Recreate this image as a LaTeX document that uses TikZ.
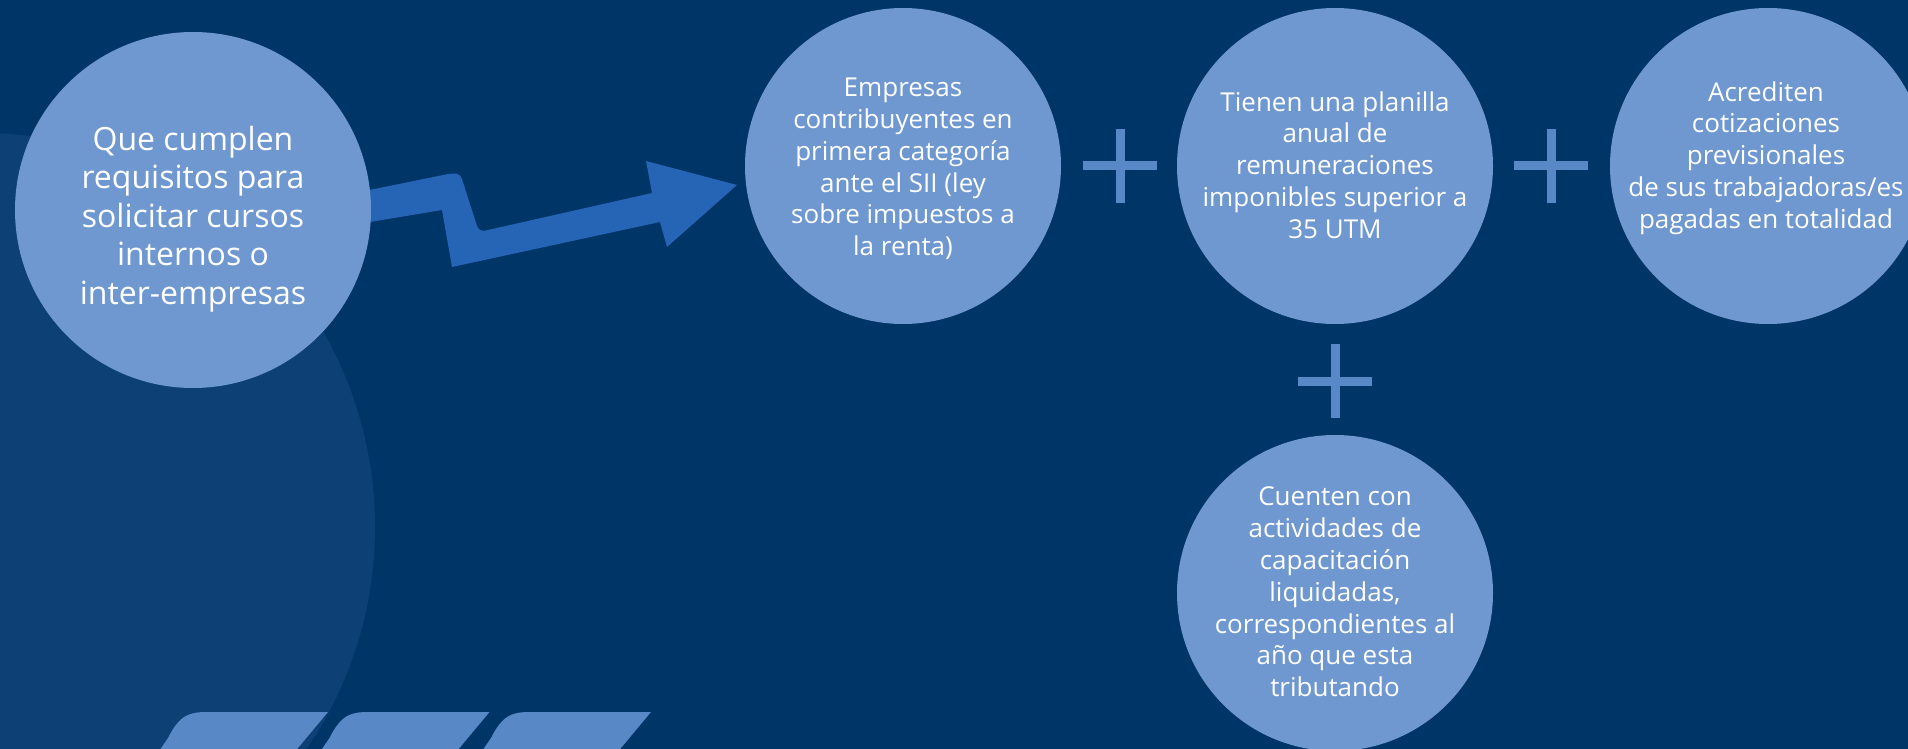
\documentclass[tikz,border=0pt]{standalone}
\usepackage{fontspec}
\setmainfont{Open Sans}
\definecolor{bgnavy}{RGB}{0,53,104}
\definecolor{halftone}{RGB}{13,64,117}
\definecolor{discblue}{RGB}{110,152,207}
\definecolor{stripeblue}{RGB}{88,136,198}
\definecolor{plusblue}{RGB}{88,136,198}
\definecolor{arrowblue}{RGB}{38,100,182}
\tikzset{
  disc/.style={circle,fill=discblue,draw=none,inner sep=0pt},
  txtsmall/.style={text=white,align=center,inner sep=0pt,font=\fontsize{13}{15.9}\selectfont},
  txtbig/.style={text=white,align=center,inner sep=0pt,font=\fontsize{16}{19.25}\selectfont},
  plussign/.style={draw=plusblue,line width=4.5pt},
  stripe/.style={fill=stripeblue,draw=none},
  zigarrow/.style={fill=arrowblue,draw=none},
  pics/plusmark/.style={code={
    \draw[plussign] (-37,0) -- (37,0);
    \draw[plussign] (0,-37) -- (0,37);
  }}
}
\begin{document}
\begin{tikzpicture}[x=0.5pt,y=-0.5pt]
\useasboundingbox (0,0) rectangle (1908,749);
\clip (0,0) rectangle (1908,749);
\fill[bgnavy] (0,0) rectangle (1908,749);
% halftone background disc
\fill[halftone] (-19,527) circle[radius=197pt];
% bottom stripes
\foreach \b in {162,323.5,485}{
  \fill[stripe] (\b-9,760) -- (\b+6,738) .. controls (\b+18,714) and (\b+28,712) .. (\b+46,712)
     -- (\b+166,712) -- (\b+126,760) -- cycle;
}
% zig-zag arrow
\fill[zigarrow] (340,196) -- (448,174) [rounded corners=3pt] -- (460,173) -- (479,232) [sharp corners] -- (652,193)
   -- (646,161) -- (737,185) -- (667,247) -- (660,222) -- (452,267) -- (442,210) -- (340,227) -- cycle;
% circles
\node[disc,minimum size=178pt] (c1) at (193,210) {};
\node[disc,minimum size=158pt] (c2) at (903,166) {};
\node[disc,minimum size=158pt] (c3) at (1335,166) {};
\node[disc,minimum size=158pt] (c4) at (1768,166) {};
\node[disc,minimum size=158pt] (c5) at (1335,593) {};
% texts
\node[txtbig] (t1) at (193,219) {Que cumplen\\requisitos para\\solicitar cursos\\internos o\\inter-empresas};
\node[txtsmall] (t2) at (903,169) {Empresas\\contribuyentes en\\primera categoría\\ante el SII (ley\\sobre impuestos a\\la renta)};
\node[txtsmall] (t3) at (1335,165) {Tienen una planilla\\anual de\\remuneraciones\\imponibles superior a\\35 UTM};
\node[txtsmall] (t4) at (1766,158) {Acrediten\\cotizaciones\\previsionales\\de sus trabajadoras/es\\pagadas en totalidad};
\node[txtsmall] (t5) at (1335,592) {Cuenten con\\actividades de\\capacitación\\liquidadas,\\correspondientes al\\año que esta\\tributando};
% plus signs
\coordinate (p1) at (1120,166);
\coordinate (p2) at (1551,166);
\coordinate (p3) at (1335,381);
\pic at (p1) {plusmark};
\pic at (p2) {plusmark};
\pic at (p3) {plusmark};
\end{tikzpicture}
\end{document}
